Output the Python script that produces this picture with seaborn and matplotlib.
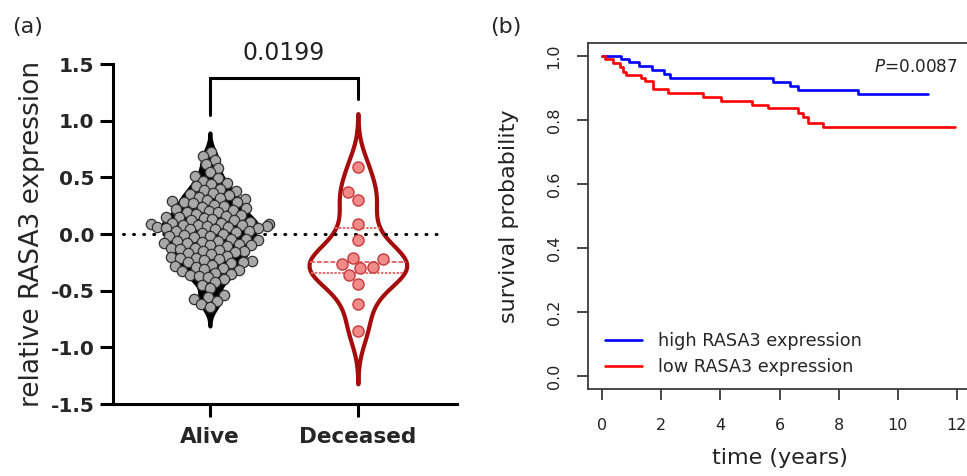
import numpy as np
import pandas as pd
import matplotlib
matplotlib.use("Agg")
import matplotlib.pyplot as plt
from matplotlib.path import Path
import seaborn as sns

# ---------------- data: panel (a) ----------------
groups = ["Alive", "Deceased"]
alive_vals = [0.72, 0.69,
              0.65, 0.62,
              0.58, 0.55, 0.51,
              0.49, 0.47, 0.45, 0.44, 0.42, 0.40,
              0.39, 0.38, 0.36, 0.35, 0.34, 0.33, 0.32, 0.31, 0.30,
              0.29, 0.28, 0.28, 0.27, 0.26, 0.25, 0.24, 0.23, 0.22, 0.21, 0.20,
              0.19, 0.19, 0.18, 0.17, 0.16, 0.15, 0.15, 0.14, 0.13, 0.12, 0.12, 0.11, 0.10,
              0.10, 0.09, 0.09, 0.08, 0.08, 0.08, 0.07, 0.07, 0.06, 0.06, 0.05, 0.05,
              0.04, 0.04, 0.03, 0.03, 0.02, 0.01, 0.00,
              -0.01, -0.02, -0.02, -0.03, -0.04, -0.04, -0.05, -0.06, -0.06, -0.07,
              -0.08, -0.08, -0.09, -0.10, -0.10,
              -0.11, -0.12, -0.12, -0.13, -0.14, -0.15, -0.15, -0.16, -0.17, -0.18, -0.19, -0.20,
              -0.21, -0.21, -0.22, -0.23, -0.24, -0.25, -0.25, -0.26, -0.27, -0.28, -0.29, -0.30,
              -0.31, -0.32, -0.33, -0.34, -0.35, -0.36, -0.37, -0.38, -0.40,
              -0.42, -0.45, -0.48,
              -0.54, -0.56, -0.57, -0.59,
              -0.62, -0.64]
deceased_vals = [0.593, 0.372, 0.298, 0.086, -0.056, -0.209, -0.218, -0.268,
                 -0.292, -0.301, -0.360, -0.442, -0.617, -0.853]
yticks_a = [-1.5, -1.0, -0.5, 0.0, 0.5, 1.0, 1.5]
p_text_a = "0.0199"

# ---------------- data: panel (b) ----------------
series_names = ["high RASA3 expression", "low RASA3 expression"]
high_time = [0, 0.62, 0.90, 1.23, 1.70, 2.10, 2.30, 5.79, 6.36, 6.64, 8.67, 11.03]
high_surv = [1.0, 0.990, 0.980, 0.968, 0.956, 0.943, 0.930, 0.918, 0.906, 0.893, 0.881, 0.881]
low_time = [0, 0.10, 0.38, 0.61, 0.70, 0.80, 1.32, 1.45, 1.73, 2.24, 3.42, 4.02,
            5.08, 5.60, 6.64, 6.80, 6.95, 7.48, 11.95]
low_surv = [1.0, 0.990, 0.978, 0.965, 0.951, 0.940, 0.930, 0.920, 0.895, 0.883, 0.871,
            0.859, 0.847, 0.836, 0.823, 0.810, 0.790, 0.777, 0.777]
xticks_b = [0, 2, 4, 6, 8, 10, 12]
yticks_b = [0.0, 0.2, 0.4, 0.6, 0.8, 1.0]
p_text_b = r"$\mathit{P}$=0.0087"

sns.set_style("ticks")
plt.rcParams["font.family"] = ["DejaVu Sans"]

fig = plt.figure(figsize=(9.67, 4.76), dpi=100)

# ================= panel (a) =================
ax1 = fig.add_axes([113 / 967, 72 / 476, 344 / 967, 340 / 476])
df_a = pd.DataFrame({
    "group": ["Alive"] * len(alive_vals) + ["Deceased"] * len(deceased_vals),
    "value": alive_vals + deceased_vals,
})
dA = df_a[df_a.group == "Alive"]
dD = df_a[df_a.group == "Deceased"]

sns.violinplot(data=dA, x="group", y="value", order=groups, color="black",
               linecolor="black", linewidth=2.8, inner=None, density_norm="width",
               width=0.64, bw_adjust=0.6, cut=2.5, saturation=1, ax=ax1)
sns.violinplot(data=dD, x="group", y="value", order=groups, color="white",
               linecolor="#a50d0d", linewidth=3.0, inner="quart",
               inner_kws=dict(color="#e46b6b", linewidth=1.4),
               density_norm="width", width=0.66, bw_adjust=0.7, cut=2.9,
               saturation=1, ax=ax1)

ax1.axhline(0, xmin=0.03, xmax=0.956, color="black", lw=2.2,
            linestyle=(0, (0.3, 3.0)), dash_capstyle="round", zorder=1)

n_before = len(ax1.collections)
sns.swarmplot(data=dA, x="group", y="value", order=groups, color="#a8a8a8",
              edgecolor="#303030", linewidth=0.9, size=5.3, ax=ax1, zorder=3)
# draw the alive markers larger than their packing size (overlapping like the original)
for coll in ax1.collections[n_before:]:
    coll.set_paths([Path.circle((0, 0), radius=0.5 * 1.4)])

sns.swarmplot(data=dD, x="group", y="value", order=groups, color="#f28a8a",
              edgecolor="#c83a3a", linewidth=1.0, size=8.0, ax=ax1, zorder=3)

ax1.set_xlim(-0.655, 1.67)
ax1.set_ylim(-1.5, 1.5)
ax1.set_yticks(yticks_a)
ax1.set_yticklabels([f"{v:.1f}" for v in yticks_a])
ax1.set_xlabel("")
ax1.set_ylabel("relative RASA3 expression", fontsize=19, labelpad=4)
for s in ["top", "right"]:
    ax1.spines[s].set_visible(False)
for s in ["left", "bottom"]:
    ax1.spines[s].set_linewidth(2.2)
    ax1.spines[s].set_color("black")
ax1.tick_params(axis="both", direction="out", length=9.5, width=2.2, color="black")
ax1.tick_params(axis="y", labelsize=14.5, pad=4)
ax1.tick_params(axis="x", labelsize=15.5, pad=7)
for lab in ax1.get_yticklabels() + ax1.get_xticklabels():
    lab.set_fontweight("bold")

# significance bracket
ax1.plot([0, 0, 1, 1], [1.05, 1.38, 1.38, 1.195], color="black", lw=2.2,
         clip_on=False, solid_joinstyle="miter")
ax1.text(0.5, 1.60, p_text_a, ha="center", va="center", fontsize=17,
         color="#222222", clip_on=False)

# ================= panel (b) =================
ax2 = fig.add_axes([588 / 967, 87 / 476, 383 / 967, 346 / 476])
df_b = pd.DataFrame({
    "time": high_time + low_time,
    "surv": high_surv + low_surv,
    "group": [series_names[0]] * len(high_time) + [series_names[1]] * len(low_time),
})
sns.lineplot(data=df_b, x="time", y="surv", hue="group", hue_order=series_names,
             palette={series_names[0]: "#0000ff", series_names[1]: "#ff0000"},
             drawstyle="steps-post", estimator=None, sort=False, linewidth=1.9, ax=ax2)

ax2.set_xlim(-0.48, 12.48)
ax2.set_ylim(-0.04, 1.04)
ax2.set_xticks(xticks_b)
ax2.set_xticklabels([str(v) for v in xticks_b])
ax2.set_yticks(yticks_b)
ax2.set_yticklabels([f"{v:.1f}" for v in yticks_b], rotation=90, va="center")
for s in ax2.spines.values():
    s.set_visible(True)
    s.set_linewidth(1.3)
    s.set_color("#3c3c3c")
ax2.tick_params(axis="both", direction="out", length=8, width=1.3, color="#3c3c3c",
                labelsize=11.5, labelcolor="#222222")
ax2.tick_params(axis="x", pad=13)
ax2.tick_params(axis="y", pad=11)
ax2.set_xlabel("time (years)", fontsize=16, labelpad=11, color="#222222")
ax2.set_ylabel("survival probability", fontsize=16, labelpad=20, color="#222222")

h, l = ax2.get_legend_handles_labels()
ax2.legend(h, l, loc="lower left", bbox_to_anchor=(0.044, 0.038), frameon=False,
           fontsize=12.7, handlelength=2.1, handletextpad=0.9, labelspacing=0.42,
           borderaxespad=0, borderpad=0)
ax2.text(0.966, 0.931, p_text_b, transform=ax2.transAxes, ha="right", va="center",
         fontsize=12.2, color="#222222")

# panel labels
fig.text(12 / 967, 1 - 27 / 476, "(a)", fontsize=16, va="center", ha="left")
fig.text(490 / 967, 1 - 27 / 476, "(b)", fontsize=16, va="center", ha="left")

fig.savefig("out.png", dpi=100)
